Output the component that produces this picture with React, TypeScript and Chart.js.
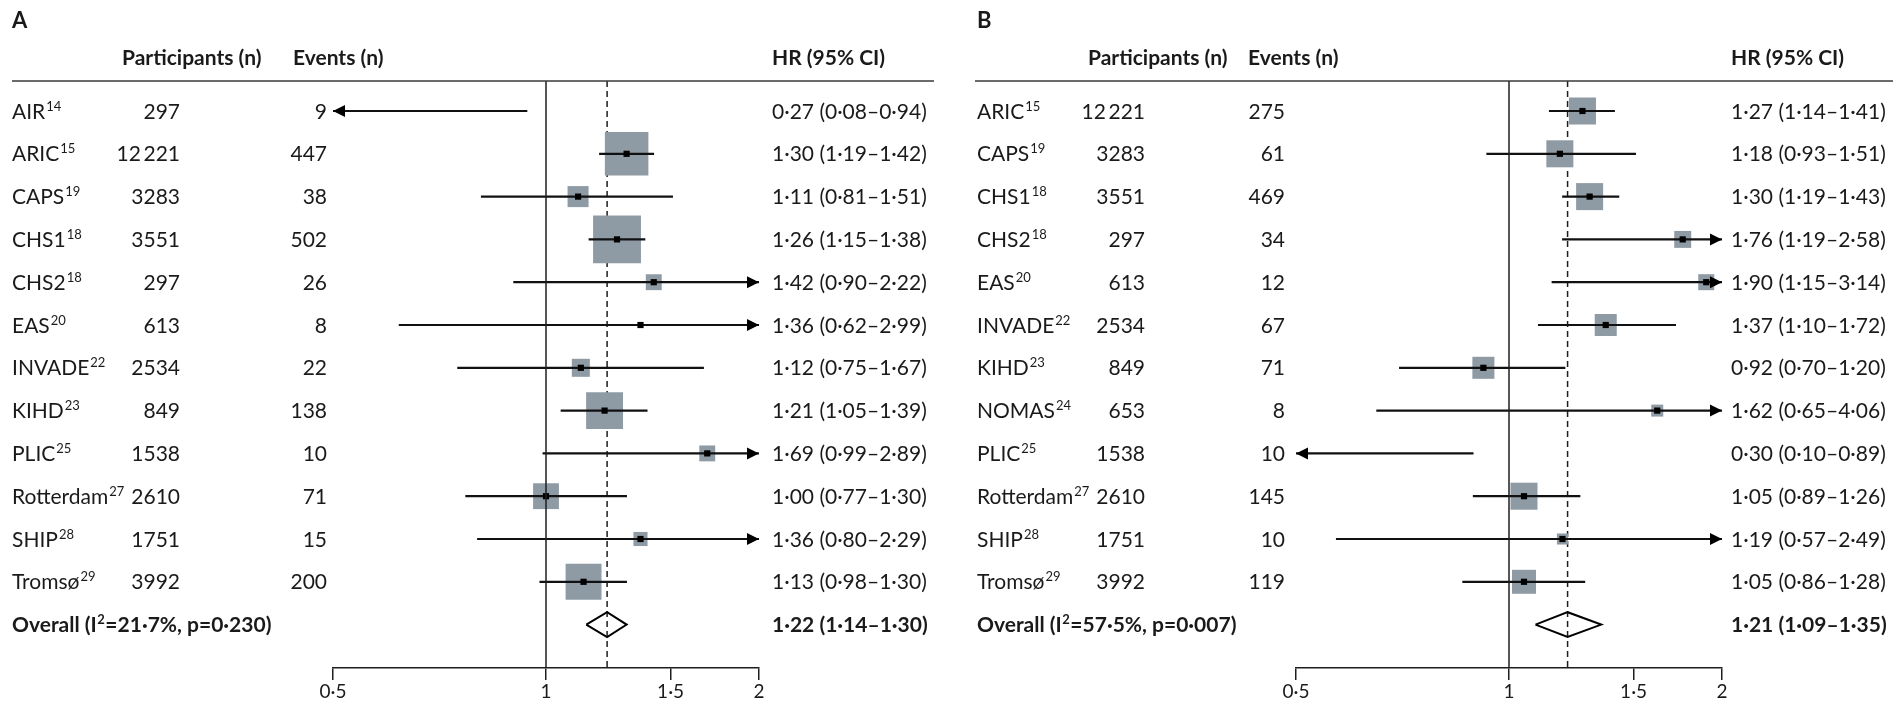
import React, { useEffect, useRef } from 'react';
import { Chart, registerables } from 'chart.js';

Chart.register(...registerables);
Chart.defaults.font.family = 'Lato';

// ---------- Panel A data ----------
const studiesA = ['AIR', 'ARIC', 'CAPS', 'CHS1', 'CHS2', 'EAS', 'INVADE', 'KIHD', 'PLIC', 'Rotterdam', 'SHIP', 'Tromsø'];
const refsA = ['14', '15', '19', '18', '18', '20', '22', '23', '25', '27', '28', '29'];
const participantsA = ['297', '12\u2009221', '3283', '3551', '297', '613', '2534', '849', '1538', '2610', '1751', '3992'];
const eventsA = ['9', '447', '38', '502', '26', '8', '22', '138', '10', '71', '15', '200'];
const hrA = [0.27, 1.30, 1.11, 1.26, 1.42, 1.36, 1.12, 1.21, 1.69, 1.00, 1.36, 1.13];
const loA = [0.08, 1.19, 0.81, 1.15, 0.90, 0.62, 0.75, 1.05, 0.99, 0.77, 0.80, 0.98];
const hiA = [0.94, 1.42, 1.51, 1.38, 2.22, 2.99, 1.67, 1.39, 2.89, 1.30, 2.29, 1.30];
const weightsA = [0.5, 21.0, 4.9, 25.4, 2.8, 0.3, 3.6, 15.1, 2.8, 7.4, 2.2, 14.3];
const overallA = [1.22, 1.14, 1.30];
const i2A = '21·7';
const pA = '0·230';

// ---------- Panel B data ----------
const studiesB = ['ARIC', 'CAPS', 'CHS1', 'CHS2', 'EAS', 'INVADE', 'KIHD', 'NOMAS', 'PLIC', 'Rotterdam', 'SHIP', 'Tromsø'];
const refsB = ['15', '19', '18', '18', '20', '22', '23', '24', '25', '27', '28', '29'];
const participantsB = ['12\u2009221', '3283', '3551', '297', '613', '2534', '849', '653', '1538', '2610', '1751', '3992'];
const eventsB = ['275', '61', '469', '34', '12', '67', '71', '8', '10', '145', '10', '119'];
const hrB = [1.27, 1.18, 1.30, 1.76, 1.90, 1.37, 0.92, 1.62, 0.30, 1.05, 1.19, 1.05];
const loB = [1.14, 0.93, 1.19, 1.19, 1.15, 1.10, 0.70, 0.65, 0.10, 0.89, 0.57, 0.86];
const hiB = [1.41, 1.51, 1.43, 2.58, 3.14, 1.72, 1.20, 4.06, 0.89, 1.26, 2.49, 1.28];
const weightsB = [13.7, 13.7, 13.7, 5.4, 4.8, 9.1, 9.1, 2.7, 1.0, 13.7, 2.3, 10.8];
const overallB = [1.21, 1.09, 1.35];
const i2B = '57·5';
const pB = '0·007';

// ---------- Axis ----------
const tickValues = [0.5, 1, 1.5, 2];
const tickLabels = ['0·5', '1', '1·5', '2'];
const xMin = 0.5;
const xMax = 2;

const fmt = (v: number) => v.toFixed(2).replace('.', '·');

const TEXT = '#1a1a1a';
const LINE = '#1e1e1e';
const BOX = '#8f9ba4';
const FONT = 'Lato';

type Panel = {
  letter: string;
  studies: string[];
  refs: string[];
  participants: string[];
  events: string[];
  hr: number[];
  lo: number[];
  hi: number[];
  weights: number[];
  overall: number[];
  i2: string;
  p: string;
  boxScale: number;
  width: number;
  padLeft: number;
  padRight: number;
  cols: {
    label: number; partRight: number; eventsRight: number; hr: number;
    hPart: number; hEvents: number; lineL: number; lineR: number;
  };
};

const panelA: Panel = {
  letter: 'A', studies: studiesA, refs: refsA, participants: participantsA, events: eventsA,
  hr: hrA, lo: loA, hi: hiA, weights: weightsA, overall: overallA, i2: i2A, p: pA,
  boxScale: 9.5, width: 960, padLeft: 333, padRight: 201,
  cols: { label: 12, partRight: 180, eventsRight: 327, hr: 772, hPart: 122, hEvents: 293, lineL: 12, lineR: 934 },
};

const panelB: Panel = {
  letter: 'B', studies: studiesB, refs: refsB, participants: participantsB, events: eventsB,
  hr: hrB, lo: loB, hi: hiB, weights: weightsB, overall: overallB, i2: i2B, p: pB,
  boxScale: 7.3, width: 935, padLeft: 336, padRight: 173,
  cols: { label: 17, partRight: 185, eventsRight: 325, hr: 771, hPart: 128, hEvents: 288, lineL: 15, lineR: 933 },
};

function makePlugin(panel: Panel) {
  return {
    id: 'forest' + panel.letter,
    beforeDatasetsDraw(chart: any) {
      const { ctx, chartArea } = chart;
      const xs = chart.scales.x;
      const xo = xs.getPixelForValue(panel.overall[0]);
      ctx.save();
      ctx.strokeStyle = LINE;
      ctx.lineWidth = 1.5;
      ctx.setLineDash([6, 4]);
      ctx.beginPath();
      ctx.moveTo(xo, chartArea.top);
      ctx.lineTo(xo, chartArea.bottom);
      ctx.stroke();
      ctx.restore();
    },
    afterDatasetsDraw(chart: any) {
      const { ctx, chartArea } = chart;
      const xs = chart.scales.x;
      const ys = chart.scales.y;
      ctx.save();
      // line of no effect
      const x1 = xs.getPixelForValue(1);
      ctx.strokeStyle = LINE;
      ctx.lineWidth = 1.5;
      ctx.beginPath();
      ctx.moveTo(x1, chartArea.top);
      ctx.lineTo(x1, chartArea.bottom);
      ctx.stroke();
      // arrow heads for clipped intervals
      ctx.fillStyle = '#000';
      panel.studies.forEach((_, i) => {
        const y = ys.getPixelForValue(i);
        if (panel.lo[i] < xMin) {
          const xt = xs.getPixelForValue(xMin);
          ctx.beginPath();
          ctx.moveTo(xt, y);
          ctx.lineTo(xt + 12, y - 6);
          ctx.lineTo(xt + 12, y + 6);
          ctx.closePath();
          ctx.fill();
        }
        if (panel.hi[i] > xMax) {
          const xt = xs.getPixelForValue(xMax);
          ctx.beginPath();
          ctx.moveTo(xt, y);
          ctx.lineTo(xt - 12, y - 6);
          ctx.lineTo(xt - 12, y + 6);
          ctx.closePath();
          ctx.fill();
        }
      });
      ctx.restore();
    },
    afterDraw(chart: any) {
      const { ctx, chartArea } = chart;
      const ys = chart.scales.y;
      const c = panel.cols;
      ctx.save();
      ctx.fillStyle = TEXT;
      ctx.textBaseline = 'alphabetic';
      // panel letter
      ctx.font = `bold 22px ${FONT}`;
      ctx.textAlign = 'left';
      ctx.fillText(panel.letter, c.label, 28);
      // headers
      ctx.font = `bold 21px ${FONT}`;
      ctx.fillText('Participants (n)', c.hPart, 65);
      ctx.fillText('Events (n)', c.hEvents, 65);
      ctx.fillText('HR (95% CI)', c.hr, 65);
      // header rule
      ctx.strokeStyle = '#3a3a3a';
      ctx.lineWidth = 1.5;
      ctx.beginPath();
      ctx.moveTo(c.lineL, chartArea.top);
      ctx.lineTo(c.lineR, chartArea.top);
      ctx.stroke();
      // rows
      panel.studies.forEach((name, i) => {
        const yb = ys.getPixelForValue(i) + 7.5;
        ctx.textAlign = 'left';
        ctx.font = `21px ${FONT}`;
        ctx.fillText(name, c.label, yb);
        const w = ctx.measureText(name).width;
        ctx.font = `13px ${FONT}`;
        ctx.fillText(panel.refs[i], c.label + w + 1, yb - 8);
        ctx.font = `21px ${FONT}`;
        ctx.textAlign = 'right';
        ctx.fillText(panel.participants[i], c.partRight, yb);
        ctx.fillText(panel.events[i], c.eventsRight, yb);
        ctx.textAlign = 'left';
        ctx.fillText(`${fmt(panel.hr[i])} (${fmt(panel.lo[i])}–${fmt(panel.hi[i])})`, c.hr, yb);
      });
      // overall row
      const n = panel.studies.length;
      const yb = ys.getPixelForValue(n) + 7.5;
      ctx.textAlign = 'left';
      ctx.font = `bold 21px ${FONT}`;
      const a = 'Overall (I';
      ctx.fillText(a, c.label, yb);
      let x = c.label + ctx.measureText(a).width;
      ctx.font = `bold 13px ${FONT}`;
      ctx.fillText('2', x + 0.5, yb - 8);
      x += ctx.measureText('2').width + 1;
      ctx.font = `bold 21px ${FONT}`;
      ctx.fillText(`=${panel.i2}%, p=${panel.p})`, x, yb);
      ctx.fillText(`${fmt(panel.overall[0])} (${fmt(panel.overall[1])}–${fmt(panel.overall[2])})`, c.hr, yb);
      ctx.restore();
    },
  };
}

function makeChart(canvas: HTMLCanvasElement, panel: Panel) {
  const n = panel.studies.length;
  const rows = panel.studies.map((_, i) => i);
  const inRange = rows.filter((i) => panel.hr[i] >= xMin && panel.hr[i] <= xMax);
  const [ov, ovLo, ovHi] = panel.overall;
  const dh = 0.29;
  return new Chart(canvas, {
    data: {
      datasets: [
        {
          type: 'scatter',
          label: 'overall',
          data: [
            { x: ovLo, y: n },
            { x: ov, y: n - dh },
            { x: ovHi, y: n },
            { x: ov, y: n + dh },
            { x: ovLo, y: n },
          ],
          showLine: true,
          borderColor: '#000',
          borderWidth: 2,
          pointRadius: 0,
          fill: false,
          order: 0,
        } as any,
        {
          type: 'scatter',
          label: 'estimate',
          data: inRange.map((i) => ({ x: panel.hr[i], y: i })),
          pointStyle: 'rect',
          pointRadius: 3.1 * Math.SQRT2,
          backgroundColor: '#000',
          borderWidth: 0,
          order: 1,
        } as any,
        {
          type: 'bar',
          label: 'ci',
          indexAxis: 'y',
          data: rows.map((i) => ({ x: [panel.lo[i], panel.hi[i]], y: i })),
          barThickness: 1.5,
          backgroundColor: '#111',
          borderWidth: 0,
          order: 2,
        } as any,
        {
          type: 'scatter',
          label: 'weight',
          data: inRange.map((i) => ({ x: panel.hr[i], y: i })),
          pointStyle: 'rect',
          pointRadius: inRange.map((i) => (panel.boxScale * Math.sqrt(panel.weights[i])) / Math.SQRT2),
          backgroundColor: BOX,
          borderWidth: 0,
          order: 3,
        } as any,
      ],
    },
    options: {
      responsive: false,
      animation: false,
      events: [],
      devicePixelRatio: 1,
      layout: { padding: { left: panel.padLeft, right: panel.padRight, top: 81, bottom: 0 } },
      plugins: { legend: { display: false }, tooltip: { enabled: false } },
      scales: {
        x: {
          type: 'logarithmic',
          min: xMin,
          max: xMax,
          offset: false,
          afterBuildTicks: (s: any) => {
            s.ticks = tickValues.map((v) => ({ value: v }));
          },
          afterFit: (s: any) => {
            s.height = 41;
          },
          ticks: {
            callback: (_v: any, idx: number) => tickLabels[idx],
            font: { family: FONT, size: 19 },
            color: TEXT,
            padding: 0,
            maxRotation: 0,
            autoSkip: false,
          },
          grid: { drawOnChartArea: false, drawTicks: true, tickLength: 12, color: LINE, lineWidth: 1.5, offset: false },
          border: { display: true, color: LINE, width: 1.5 },
        },
        y: {
          type: 'linear',
          reverse: true,
          min: -0.701,
          max: 13.014,
          offset: false,
          grid: { offset: false },
          display: false,
        },
      },
    } as any,
    plugins: [makePlugin(panel)],
  });
}

export default function App() {
  const refA = useRef<HTMLCanvasElement>(null);
  const refB = useRef<HTMLCanvasElement>(null);
  useEffect(() => {
    const charts = [makeChart(refA.current!, panelA), makeChart(refB.current!, panelB)];
    return () => charts.forEach((c) => c.destroy());
  }, []);
  return (
    <div style={{ position: 'absolute', left: 0, top: 0, width: 1895, height: 709, background: '#fff' }}>
      <canvas ref={refA} width={960} height={709} style={{ position: 'absolute', left: 0, top: 0 }} />
      <canvas ref={refB} width={935} height={709} style={{ position: 'absolute', left: 960, top: 0 }} />
    </div>
  );
}
